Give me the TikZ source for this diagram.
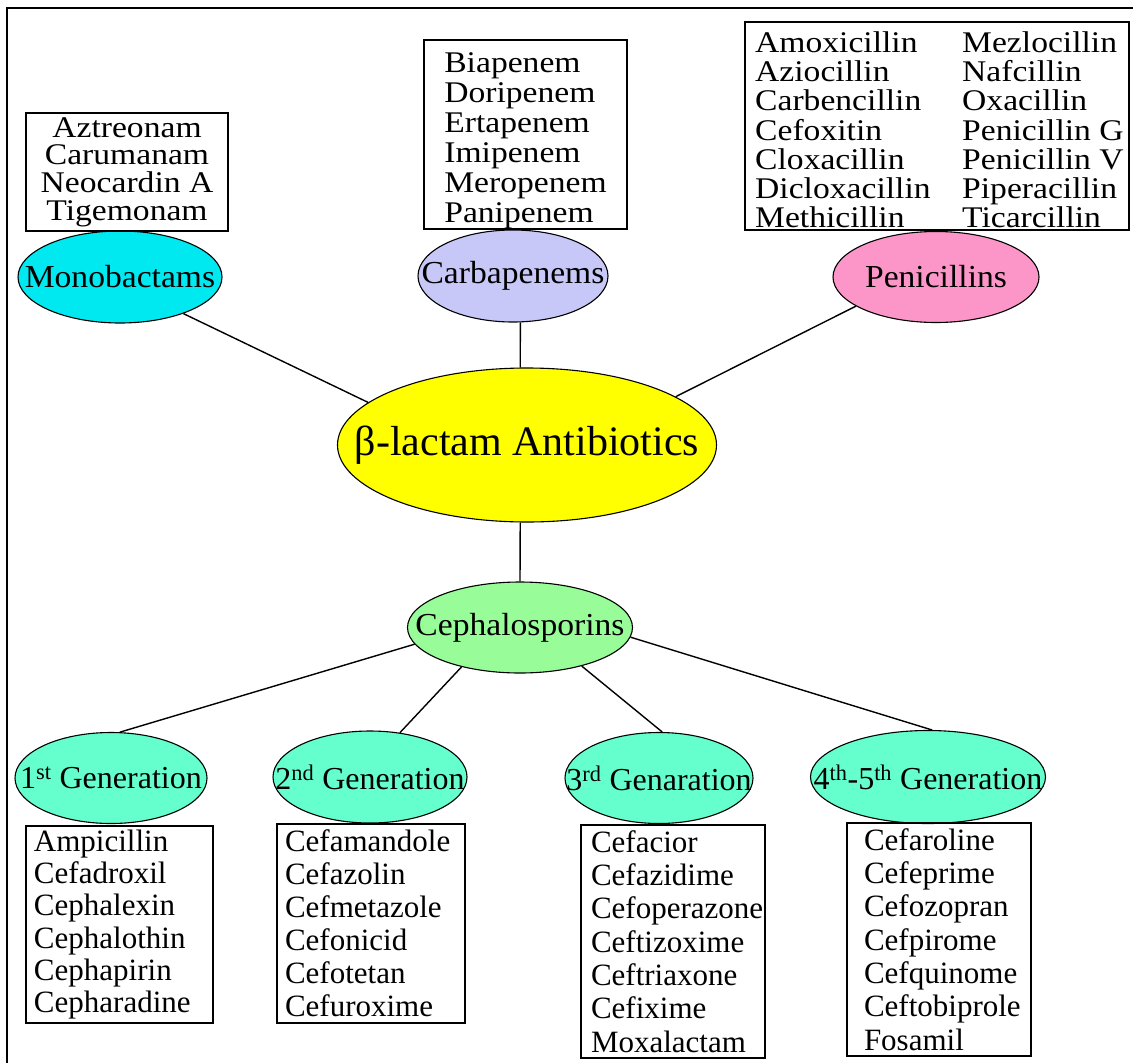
\documentclass[tikz,border=0pt]{standalone}
\usepackage{fontspec}
\setmainfont{Liberation Serif}
\newfontfamily\listfont{Liberation Serif}[FakeStretch=1.12]
\newfontfamily\labfont{Liberation Serif}[FakeStretch=1.05]
\usetikzlibrary{shapes.geometric}
\definecolor{monoC}{RGB}{0,232,240}
\definecolor{carbC}{RGB}{200,200,248}
\definecolor{penC}{RGB}{252,150,200}
\definecolor{centC}{RGB}{255,255,0}
\definecolor{cephC}{RGB}{152,252,152}
\definecolor{genC}{RGB}{100,255,205}
\begin{document}
\begin{tikzpicture}[x=1pt,y=-1pt,
  oval/.style={ellipse,draw=black,line width=1.1pt,inner sep=0pt,
    font=\labfont\fontsize{32}{36}\selectfont},
  genoval/.style={oval,fill=genC,font=\fontsize{32}{36}\selectfont},
  listbox/.style={rectangle,draw=black,line width=1.2pt,inner ysep=0pt},
  toplist/.style={font=\listfont\fontsize{30}{#1}\selectfont},
  botlist/.style={font=\fontsize{31}{#1}\selectfont,align=left},
  link/.style={line width=1.4pt}]
\useasboundingbox (0,0) rectangle (1133,1063);
\fill[white] (0,0) rectangle (1133,1063);
\draw[line width=2pt] (7,1070) |- (1140,8);

% ellipses
\node[oval,fill=centC,minimum width=379pt,minimum height=154pt,font=\fontsize{42}{46}\selectfont] (cent) at (527,445) {\makebox[0pt]{β-lactam Antibiotics}};
\node[oval,fill=monoC,minimum width=204pt,minimum height=92pt] (mono) at (120,277) {\makebox[0pt]{Monobactams}};
\node[oval,fill=carbC,minimum width=190pt,minimum height=92pt] (carb) at (513,276) {\makebox[0pt]{Carbapenems}};
\node[oval,fill=penC,minimum width=206pt,minimum height=91pt] (pen) at (936,277) {\makebox[0pt]{Penicillins}};
\node[oval,fill=cephC,minimum width=225pt,minimum height=91pt] (ceph) at (520,627.5) {\makebox[0pt]{Cephalosporins}};
\node[genoval,minimum width=192pt,minimum height=91pt] (g1) at (111,778) {\makebox[0pt]{1\textsuperscript{st} Generation}};
\node[genoval,minimum width=194pt,minimum height=92pt] (g2) at (370,777) {\makebox[0pt]{2\textsuperscript{nd} Generation}};
\node[genoval,minimum width=188pt,minimum height=91pt] (g3) at (659,778) {\makebox[0pt]{3\textsuperscript{rd} Genaration}};
\node[genoval,minimum width=235pt,minimum height=93pt] (g4) at (928,777) {\makebox[0pt]{4\textsuperscript{th}-5\textsuperscript{th} Generation}};

% connectors
\draw[link] (mono.-30) -- (cent.165);
\draw[link] (carb.-81) -- (cent.95);
\draw[link] (pen.-160) -- (cent.18);
\draw[link] (cent.-95) -- (ceph.north);
\draw[link] (ceph.-171) -- (g1.79);
\draw[link] (ceph.-146) -- (g2.56);
\draw[link] (ceph.-32) -- (g3.86);
\draw[link] (ceph.-5) -- (g4.85);

% top lists
\node[listbox,toplist=27.7,align=center,minimum width=202pt,minimum height=118pt] (monolist) at (127,172)
  {Aztreonam\\Carumanam\\Neocardin A\\Tigemonam};
\node[listbox,toplist=30,align=left,minimum width=203pt,minimum height=189pt] (carblist) at (525.5,134.5)
  {\rule{0pt}{32pt}Biapenem\\Doripenem\\Ertapenem\\Imipenem\\Meropenem\\Panipenem};
\node[listbox,minimum width=384pt,minimum height=208pt] (penlist) at (937,126) {};
\node[toplist=29.2,align=left,anchor=north west,inner sep=0pt] (penA) at (755,31.5)
  {Amoxicillin\\Aziocillin\\Carbencillin\\Cefoxitin\\Cloxacillin\\Dicloxacillin\\Methicillin};
\node[toplist=29.2,align=left,anchor=north west,inner sep=0pt] (penB) at (962,31.5)
  {Mezlocillin\\Nafcillin\\Oxacillin\\Penicillin G\\Penicillin V\\Piperacillin\\Ticarcillin};

% bottom lists
\node[listbox,botlist=32.2,text width=171pt,inner xsep=8pt,minimum height=197pt] (g1list) at (119.5,924.5)
  {Ampicillin\\Cefadroxil\\Cephalexin\\Cephalothin\\Cephapirin\\Cepharadine};
\node[listbox,botlist=33,text width=172pt,inner xsep=8pt,minimum height=199pt] (g2list) at (371,923.5)
  {Cefamandole\\Cefazolin\\Cefmetazole\\Cefonicid\\Cefotetan\\Cefuroxime};
\node[listbox,botlist=33.3,text width=164pt,inner xsep=10pt,minimum height=233pt] (g3list) at (673,941.5)
  {Cefacior\\Cefazidime\\Cefoperazone\\Ceftizoxime\\Ceftriaxone\\Cefixime\\Moxalactam};
\node[listbox,botlist=33.3,text width=150pt,inner xsep=17pt,minimum height=233pt] (g4list) at (939,939.5)
  {Cefaroline\\Cefeprime\\Cefozopran\\Cefpirome\\Cefquinome\\Ceftobiprole\\Fosamil};
\end{tikzpicture}
\end{document}
